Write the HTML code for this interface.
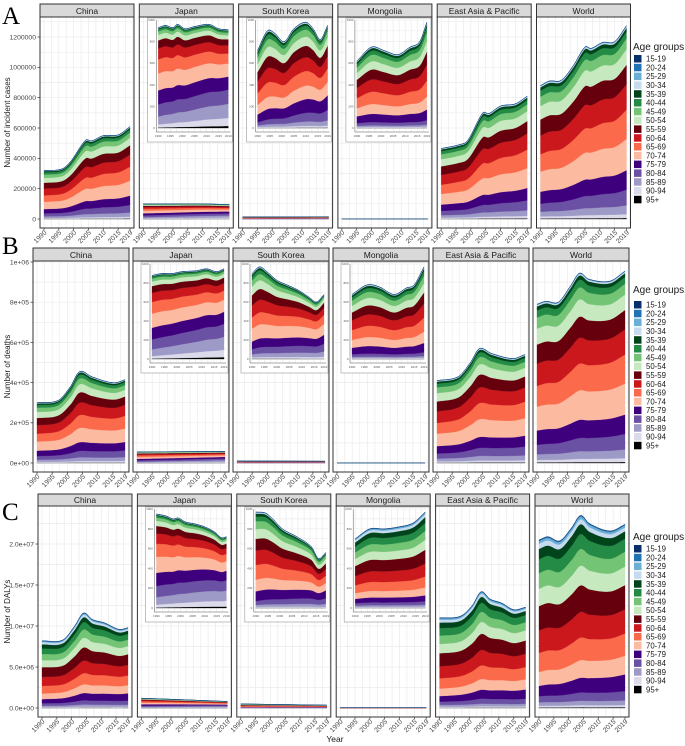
<!DOCTYPE html>
<html><head><meta charset="utf-8">
<style>
html,body{margin:0;padding:0;background:#fff;}
svg{display:block;font-family:"Liberation Sans",Arial,sans-serif;}
</style></head>
<body>
<svg id="s" width="685" height="746" viewBox="0 0 685 746" xmlns="http://www.w3.org/2000/svg"></svg>
<script>
var S=document.getElementById('s');var out=[];
function add(t){out.push(t);}
var COLORS=['#000000','#dadaeb','#9e9ac8','#6a51a3','#3f007d','#fcbba1','#fb6a4a','#cb181d','#67000d','#c7e9c0','#74c476','#238b45','#00441b','#c6dbef','#6baed6','#2171b5','#08306b'];
var LABELS=['15-19','20-24','25-29','30-34','35-39','40-44','45-49','50-54','55-59','60-64','65-69','70-74','75-79','80-84','85-89','90-94','95+'];
var P={
 midS:[0.004,0.015,0.035,0.06,0.09,0.15,0.13,0.14,0.12,0.10,0.07,0.045,0.025,0.008,0.004,0.001,0.0004],
 midE:[0.005,0.02,0.045,0.08,0.1,0.16,0.15,0.13,0.1,0.08,0.055,0.035,0.02,0.007,0.003,0.001,0.0004],
 oldS:[0.005,0.03,0.08,0.12,0.14,0.17,0.14,0.11,0.08,0.055,0.035,0.02,0.01,0.005,0.002,0.001,0.0004],
 oldE:[0.02,0.08,0.14,0.14,0.13,0.13,0.1,0.08,0.06,0.04,0.025,0.015,0.008,0.004,0.002,0.0008,0.0004],
 yS:[0.002,0.01,0.02,0.04,0.1,0.12,0.15,0.15,0.12,0.1,0.08,0.05,0.03,0.01,0.004,0.0015,0.0006],
 yE:[0.004,0.02,0.05,0.1,0.14,0.13,0.13,0.12,0.1,0.08,0.06,0.03,0.015,0.007,0.003,0.001,0.0005],
 dS:[0.003,0.01,0.02,0.035,0.06,0.08,0.11,0.13,0.14,0.1,0.09,0.08,0.06,0.03,0.015,0.005,0.002],
 dE:[0.004,0.012,0.025,0.05,0.09,0.1,0.12,0.13,0.13,0.1,0.08,0.07,0.04,0.02,0.012,0.004,0.0015]
};
function interp(keys,t){
 var n=keys.length;if(t<=keys[0][0])return keys[0][1];if(t>=keys[n-1][0])return keys[n-1][1];
 for(var i=0;i<n-1;i++){if(t>=keys[i][0]&&t<=keys[i+1][0]){
  var p0=keys[Math.max(0,i-1)],p1=keys[i],p2=keys[i+1],p3=keys[Math.min(n-1,i+2)];
  var u=(t-p1[0])/(p2[0]-p1[0]);
  var m1=(p2[1]-p0[1])/(p2[0]-p0[0])*(p2[0]-p1[0]);var m2=(p3[1]-p1[1])/(p3[0]-p1[0])*(p2[0]-p1[0]);
  var h00=2*u*u*u-3*u*u+1,h10=u*u*u-2*u*u+u,h01=-2*u*u*u+3*u*u,h11=u*u*u-u*u;
  return h00*p1[1]+h10*m1+h01*p2[1]+h11*m2;}}
}
function stack(x0,x1,yZero,ppu,keys,pS,pE){
 var N=59,pts=[];
 for(var i=0;i<=N;i++){var t=1990+29*i/N;var tot=interp(keys,t);var f=i/N;
  var fr=[],s=0;for(var k=0;k<17;k++){fr[k]=pS[k]*(1-f)+pE[k]*f;s+=fr[k];}
  var c=[0],acc=0;for(var k=0;k<17;k++){acc+=fr[k]/s*tot;c.push(acc);}
  pts.push({x:x0+(x1-x0)*i/N,c:c});}
 for(var k=0;k<17;k++){
  var top=[],bot=[];
  for(var i=0;i<=N;i++){top.push(pts[i].x.toFixed(2)+','+(yZero-pts[i].c[k+1]*ppu).toFixed(2));}
  for(var i=N;i>=0;i--){bot.push(pts[i].x.toFixed(2)+','+(yZero-pts[i].c[k]*ppu).toFixed(2));}
  add('<polygon points="'+top.join(' ')+' '+bot.join(' ')+'" fill="'+COLORS[k]+'" stroke="'+COLORS[k]+'" stroke-width="0.3"/>');
 }
}
function grid(x0,x1,y0,y1,xs,ys,minor){
 add('<rect x="'+x0+'" y="'+y0+'" width="'+(x1-x0)+'" height="'+(y1-y0)+'" fill="#fff"/>');
 xs.forEach(function(x){add('<line x1="'+x+'" x2="'+x+'" y1="'+y0+'" y2="'+y1+'" stroke="#ebebeb" stroke-width="0.7"/>');});
 ys.forEach(function(y){add('<line x1="'+x0+'" x2="'+x1+'" y1="'+y+'" y2="'+y+'" stroke="#ebebeb" stroke-width="0.7"/>');});
}
var years=[1990,1995,2000,2005,2010,2015,2019];
var rows=[
 {letter:'A',ly:24,left:40,step:99.3,w:94,st:4,pt:17,pb:228,yz:219,ppu:182/1.2e6,ticks:[0,2e5,4e5,6e5,8e5,1e6,1.2e6],tl:['0','200000','400000','600000','800000','1000000','1200000'],title:'Number of incident cases',legT:50,legB:55,insH:125,
  main:[[[1990,320e3],[1996,330e3],[1999,380e3],[2004,520e3],[2006,515e3],[2010,550e3],[2015,555e3],[2019,610e3]],[[1990,100e3],[2000,100e3],[2010,100e3],[2019,95e3]],[[1990,14e3],[2019,15e3]],[[1990,800],[2019,900]],
   [[1990,465e3],[1996,490e3],[1999,520e3],[2004,700e3],[2006,695e3],[2010,745e3],[2015,760e3],[2019,810e3]],[[1990,880e3],[1993,910e3],[1997,915e3],[2001,1010e3],[2005,1135e3],[2007,1125e3],[2011,1165e3],[2015,1170e3],[2019,1275e3]]],
  ins:[[[1990,0.93],[1993,0.95],[1996,0.93],[1998,0.96],[2001,0.92],[2005,0.94],[2011,0.96],[2015,0.92],[2019,0.91]],[[1990,0.72],[1994,0.9],[1997,0.88],[2001,0.8],[2005,0.92],[2010,0.98],[2013,0.92],[2016,0.82],[2019,0.95]],[[1990,0.62],[1996,0.75],[2001,0.72],[2007,0.68],[2012,0.75],[2016,0.8],[2019,0.98]]],
  prof:[['midS','midE'],['oldS','oldE'],['yS','yE'],['yS','yS'],['midS','midE'],['midS','midE']]},
 {letter:'B',ly:254,left:33,step:100,w:96,st:248,pt:261,pb:472,yz:463,ppu:201/1e6,ticks:[0,2e5,4e5,6e5,8e5,1e6],tl:['0e+00','2e+05','4e+05','6e+05','8e+05','1e+06'],title:'Number of deaths',legT:293,legB:301,insH:112,
  main:[[[1990,300e3],[1997,312e3],[2001,380e3],[2004,455e3],[2008,430e3],[2013,405e3],[2016,400e3],[2019,415e3]],[[1990,55e3],[2019,58e3]],[[1990,10e3],[2019,9e3]],[[1990,500],[2019,600]],
   [[1990,410e3],[1997,430e3],[2001,500e3],[2004,570e3],[2008,545e3],[2015,520e3],[2019,540e3]],[[1990,790e3],[1993,805e3],[1997,800e3],[2001,880e3],[2004,945e3],[2007,915e3],[2014,905e3],[2019,955e3]]],
  ins:[[[1990,0.88],[1994,0.9],[1998,0.9],[2002,0.92],[2008,0.93],[2012,0.95],[2016,0.92],[2019,0.95]],[[1990,0.9],[1993,0.97],[1996,0.92],[2000,0.83],[2005,0.77],[2009,0.72],[2013,0.65],[2016,0.6],[2019,0.68]],[[1990,0.68],[1996,0.78],[2001,0.76],[2007,0.68],[2012,0.75],[2015,0.78],[2019,0.97]]],
  prof:[['midS','midE'],['oldS','oldE'],['midS','oldS'],['yS','yS'],['midS','midE'],['midS','midE']]},
 {letter:'C',ly:520,left:38,step:99.4,w:94,st:494,pt:506,pb:717,yz:708,ppu:164/2e7,ticks:[0,5e6,1e7,1.5e7,2e7],tl:['0.0e+00','5.0e+06','1.0e+07','1.5e+07','2.0e+07'],title:'Number of DALYs',legT:540,legB:545,insH:116,
  main:[[[1990,8.2e6],[1997,8.3e6],[2001,10e6],[2004,11.6e6],[2007,10.8e6],[2011,10.4e6],[2016,9.6e6],[2019,9.8e6]],[[1990,1.2e6],[2005,1.0e6],[2019,0.8e6]],[[1990,0.5e6],[2019,0.35e6]],[[1990,4e4],[2019,4e4]],
   [[1990,11e6],[1997,11.2e6],[2001,12.5e6],[2004,14.2e6],[2007,13.3e6],[2011,12.8e6],[2015,12e6],[2019,12.3e6]],[[1990,20.5e6],[1993,20.9e6],[1997,20.4e6],[2001,22e6],[2004,23.5e6],[2007,22.5e6],[2014,21.6e6],[2019,22.4e6]]],
  ins:[[[1990,0.95],[1994,0.93],[1997,0.9],[1999,0.91],[2002,0.87],[2006,0.85],[2010,0.82],[2014,0.77],[2017,0.71],[2019,0.72]],[[1990,0.97],[1994,0.96],[1997,0.9],[2001,0.8],[2007,0.72],[2013,0.62],[2016,0.5],[2019,0.56]],[[1990,0.7],[1996,0.8],[2002,0.8],[2008,0.82],[2014,0.86],[2019,0.97]]],
  prof:[['dS','dE'],['oldS','oldE'],['yS','yE'],['dS','dS'],['dS','dE'],['dS','dE']]}
];
var names=['China','Japan','South Korea','Mongolia','East Asia & Pacific','World'];
rows.forEach(function(r){
 add('<text x="2" y="'+r.ly+'" font-family="Liberation Serif,serif" font-size="25">'+r.letter+'</text>');
 var cy=(r.pt+r.pb)/2;
 add('<text transform="translate(10,'+cy+') rotate(-90)" text-anchor="middle" font-size="8" fill="#222">'+r.title+'</text>');
 for(var p=0;p<6;p++){
  var L=r.left+p*r.step,R=L+r.w;var dx0=L+4,dx1=R-4;
  function xy(y){return dx0+(dx1-dx0)*(y-1990)/29;}
  var vx=[],vy=[];
  for(var y=1987.5;y<=2020;y+=2.5){var X=xy(y);if(X>L&&X<R)vx.push(X.toFixed(2));}
  var ts=r.ticks[1]-r.ticks[0];
  for(var v=-ts/2;v<r.ticks[r.ticks.length-1]+ts;v+=ts/2){var Y=r.yz-v*r.ppu;if(Y>r.pt&&Y<r.pb)vy.push(Y.toFixed(2));}
  grid(L,R,r.pt,r.pb,vx,vy);
  stack(dx0,dx1,r.yz,r.ppu,r.main[p],P[r.prof[p][0]],P[r.prof[p][1]]);
  if(p>=1&&p<=3){
   var iL=L+8,iR=R-1,iT=r.pt+1,iB=r.pt+r.insH;
   add('<rect x="'+iL+'" y="'+iT+'" width="'+(iR-iL)+'" height="'+(iB-iT)+'" fill="#fff" stroke="#999" stroke-width="0.6"/>');
   var pL=iL+9,pR=iR-2,pT=iT+2,pB=iB-10;
   var ix0=pL+2,ix1=pR-2;var gx=[];for(var y=1990;y<=2019;y+=2.5){gx.push((ix0+(ix1-ix0)*(y-1990)/29).toFixed(2));}
   var gy=[];for(var k=0;k<=10;k++){gy.push((pB-4-(pB-4-pT)*k/10).toFixed(2));}
   grid(pL,pR,pT,pB,gx,gy);
   var ib=pB-4,ih=ib-pT;
   stack(ix0,ix1,ib,ih,r.ins[p-1],P[r.prof[p][0]],P[r.prof[p][1]]);
   add('<line x1="'+pL+'" x2="'+pL+'" y1="'+pT+'" y2="'+pB+'" stroke="#555" stroke-width="0.5"/>');
   add('<line x1="'+pL+'" x2="'+pR+'" y1="'+pB+'" y2="'+pB+'" stroke="#555" stroke-width="0.5"/>');
   for(var k=0;k<=5;k++){var yy=ib-ih*k/5;add('<text x="'+(pL-1.5)+'" y="'+(yy+1).toFixed(1)+'" font-size="3" text-anchor="end" fill="#555">'+(k*200)+'</text>');}
   years.forEach(function(y){var X=ix0+(ix1-ix0)*(y-1990)/29;add('<text x="'+X.toFixed(1)+'" y="'+(pB+5)+'" font-size="3" text-anchor="middle" fill="#555">'+y+'</text>');});
  }
  add('<rect x="'+L+'" y="'+r.pt+'" width="'+r.w+'" height="'+(r.pb-r.pt)+'" fill="none" stroke="#333" stroke-width="1"/>');
  add('<rect x="'+L+'" y="'+r.st+'" width="'+r.w+'" height="'+(r.pt-r.st)+'" fill="#d9d9d9" stroke="#333" stroke-width="1"/>');
  add('<text x="'+(L+r.w/2)+'" y="'+(r.pt-3)+'" font-size="8.5" text-anchor="middle" fill="#1a1a1a">'+names[p].replace('&','&amp;')+'</text>');
  years.forEach(function(y){var X=xy(y);
   add('<line x1="'+X+'" x2="'+X+'" y1="'+r.pb+'" y2="'+(r.pb+2.5)+'" stroke="#333" stroke-width="0.7"/>');
   add('<text transform="translate('+(X+3)+','+(r.pb+5)+') rotate(-45)" font-size="6.8" text-anchor="end" fill="#444">'+y+'</text>');});
  if(p==0){r.ticks.forEach(function(v,i){var Y=r.yz-v*r.ppu;
   add('<line x1="'+(L-2.5)+'" x2="'+L+'" y1="'+Y+'" y2="'+Y+'" stroke="#333" stroke-width="0.7"/>');
   add('<text x="'+(L-4)+'" y="'+(Y+2.4)+'" font-size="6.8" text-anchor="end" fill="#444">'+r.tl[i]+'</text>');});}
 }
 add('<text x="633" y="'+r.legT+'" font-size="10" fill="#1a1a1a">Age groups</text>');
 for(var k=0;k<17;k++){var yy=r.legB+k*8.8;
  add('<rect x="634" y="'+yy.toFixed(1)+'" width="7.5" height="7.5" fill="'+COLORS[16-k]+'"/>');
  add('<text x="646" y="'+(yy+6.6).toFixed(1)+'" font-size="7.8" fill="#1a1a1a">'+LABELS[k]+'</text>');}
});
add('<text x="335" y="742" font-size="8.5" text-anchor="middle" fill="#1a1a1a">Year</text>');
S.innerHTML=out.join('');
</script>
</body></html>
